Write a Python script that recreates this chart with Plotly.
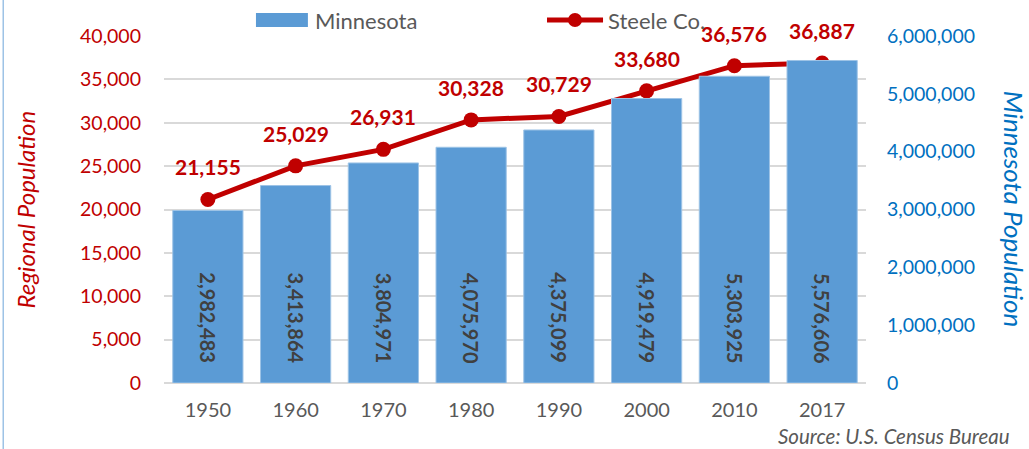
import plotly.graph_objects as go

years = ["1950", "1960", "1970", "1980", "1990", "2000", "2010", "2017"]
minnesota = [2982483, 3413864, 3804971, 4075970, 4375099, 4919479, 5303925, 5576606]
steele = [21155, 25029, 26931, 30328, 30729, 33680, 36576, 36887]

left_ticks = list(range(0, 40001, 5000))
right_ticks = list(range(0, 6000001, 1000000))

RED = "#C00000"
BLUE = "#5B9BD5"
AXBLUE = "#0070C0"
GRAY = "#595959"
FONT = "Lato"
BAR_LABEL_Y = 1120000  # position of the rotated bar labels on the Minnesota axis

fig = go.Figure()
fig.add_trace(go.Bar(
    x=years, y=minnesota, name="Minnesota", yaxis="y2",
    marker=dict(color=BLUE, line=dict(color="#9DC3E6", width=1)),
    width=0.8,
))
fig.add_trace(go.Scatter(
    x=years, y=steele, name="Steele Co.", yaxis="y",
    mode="lines+markers",
    line=dict(color=RED, width=5),
    marker=dict(color=RED, size=15),
    cliponaxis=False,
))

fig.update_layout(
    width=1029, height=449,
    margin=dict(l=164, r=163, t=36, b=66, autoexpand=False),
    paper_bgcolor="white", plot_bgcolor="white",
    font=dict(family=FONT, size=18, color=GRAY),
    showlegend=False,
    xaxis=dict(type="category", range=[-0.5, len(years) - 0.5],
               tickfont=dict(family=FONT, size=20, color=GRAY),
               showgrid=False, ticks="", showline=False, automargin=False,
               ticklabelstandoff=13),
    yaxis=dict(range=[0, 40000], tickvals=left_ticks, tickformat=",",
               tickfont=dict(family=FONT, size=19.5, color=RED),
               showgrid=True, gridcolor="#D9D9D9", gridwidth=1.5,
               zeroline=True, zerolinecolor="#D9D9D9", zerolinewidth=2,
               ticks="", ticklabelstandoff=22, automargin=False),
    yaxis2=dict(range=[0, 6000000], tickvals=right_ticks, tickformat=",",
                overlaying="y", side="right", showgrid=False, zeroline=False,
                tickfont=dict(family=FONT, size=19.5, color=AXBLUE), ticks="",
                ticklabelstandoff=20, automargin=False),
)

# bar labels (rotated, inside bars near base)
for i, v in enumerate(minnesota):
    fig.add_annotation(x=i, y=BAR_LABEL_Y, xref="x", yref="y2", text=f"<b>{v:,}</b>",
                       textangle=90, showarrow=False,
                       font=dict(family=FONT, size=20, color="#404040"))
# line labels
for i, v in enumerate(steele):
    fig.add_annotation(x=i, y=v, xref="x", yref="y", text=f"<b>{v:,}</b>",
                       yanchor="bottom", yshift=18, showarrow=False,
                       font=dict(family=FONT, size=21, color=RED))

# custom legend
fig.add_shape(type="rect", xref="paper", yref="paper", x0=0.131, x1=0.205,
              y0=1.026, y1=1.066, fillcolor=BLUE, line=dict(width=0))
fig.add_annotation(text="Minnesota", xref="paper", yref="paper", x=0.212, y=1.046,
                   xanchor="left", yanchor="middle", showarrow=False,
                   font=dict(family=FONT, size=22, color=GRAY))
fig.add_shape(type="line", xref="paper", yref="paper", x0=0.5456, x1=0.6254,
              y0=1.046, y1=1.046, line=dict(color=RED, width=5))
fig.add_shape(type="circle", xref="paper", yref="paper", xsizemode="pixel",
              ysizemode="pixel", xanchor=0.5855, yanchor=1.046, x0=-7, x1=7,
              y0=-7, y1=7, fillcolor=RED, line=dict(width=0))
fig.add_annotation(text="Steele Co.", xref="paper", yref="paper", x=0.6296, y=1.046,
                   xanchor="left", yanchor="middle", showarrow=False,
                   font=dict(family=FONT, size=22, color=GRAY))

# axis titles
fig.add_annotation(text="<i>Regional Population</i>", xref="paper", yref="paper",
                   x=-0.198, xanchor="center", y=0.5, yanchor="middle", textangle=-90,
                   showarrow=False, font=dict(family=FONT, size=24, color=RED))
fig.add_annotation(text="<i>Minnesota Population</i>", xref="paper", yref="paper",
                   x=1.212, xanchor="center", y=0.5, yanchor="middle", textangle=90,
                   showarrow=False, font=dict(family=FONT, size=26, color=AXBLUE))
fig.add_annotation(text="<i>Source: U.S. Census Bureau</i>", xref="paper", yref="paper",
                   x=1.208, xanchor="right", y=-0.153, yanchor="middle", showarrow=False,
                   font=dict(family=FONT, size=20.5, color=GRAY))
fig.add_shape(type="line", xref="paper", yref="paper", x0=-0.229, x1=-0.229,
              y0=-0.2, y1=1.11, line=dict(color="#9DC3E6", width=1.5))

fig.write_html("out.html", config={"displayModeBar": False},
               post_script="document.body.style.margin='0px';")
